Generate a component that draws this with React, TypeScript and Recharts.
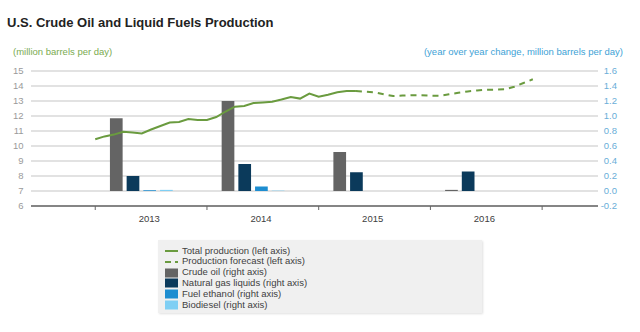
import React from "react";
import { ComposedChart, Bar, Line, XAxis, YAxis, CartesianGrid } from "recharts";

const FONT = "'Liberation Sans', Arial, sans-serif";

const years = ["2013", "2014", "2015", "2016"];

// monthly total production, Jan 2013 - May 2015 (million barrels per day)
const totalProduction = [
  10.45, 10.64, 10.76, 10.95, 10.9, 10.84, 11.1, 11.33, 11.56, 11.6, 11.8, 11.73,
  11.73, 11.93, 12.3, 12.62, 12.67, 12.86, 12.9, 12.95, 13.1, 13.27, 13.16, 13.5,
  13.28, 13.42, 13.58, 13.66, 13.67,
];
// forecast, May 2015 - Dec 2016
const productionForecast = [
  13.67, 13.62, 13.58, 13.45, 13.33, 13.36, 13.38, 13.38, 13.36, 13.35, 13.45,
  13.55, 13.64, 13.7, 13.75, 13.76, 13.78, 13.95, 14.2, 14.45,
];

// year over year change (million barrels per day)
const crudeOil = [0.97, 1.2, 0.52, 0.015];
const naturalGasLiquids = [0.2, 0.36, 0.25, 0.26];
const fuelEthanol = [0.01, 0.06, 0, 0];
const biodiesel = [0.015, 0.005, 0, 0];

const leftTicks = [6, 7, 8, 9, 10, 11, 12, 13, 14, 15];
const rightTicks = [-0.2, 0, 0.2, 0.4, 0.6, 0.8, 1.0, 1.2, 1.4, 1.6];
const yearTicks = [0, 12, 24, 36, 48];

const X_DOMAIN: [number, number] = [-6.9, 54];
const FORECAST_START = totalProduction.length - 1;
const BAR_MONTH = 5;

const C = {
  green: "#6a9b3f",
  crude: "#646464",
  ngl: "#0b3a5b",
  ethanol: "#1d8dd0",
  biodiesel: "#7fcff4",
};

const monthRows = Array.from(
  { length: FORECAST_START + productionForecast.length },
  (_, m) => ({
    m,
    actual: m < totalProduction.length ? totalProduction[m] : null,
    forecast: m >= FORECAST_START ? productionForecast[m - FORECAST_START] : null,
  })
);

const barRows = years.map((year, i) => ({
  m: i * 12 + BAR_MONTH,
  year,
  crude: crudeOil[i],
  ngl: naturalGasLiquids[i],
  ethanol: fuelEthanol[i],
  biodiesel: biodiesel[i],
}));

const YearTick = (props: any) => {
  const { x, y, payload } = props;
  const label = years[Math.round(payload.value / 12)];
  if (!label) return <g />;
  return (
    <text x={x + 54} y={y + 9.5} textAnchor="middle" fontSize={9.5} fill="#404040" fontFamily={FONT}>
      {label}
    </text>
  );
};

const legendItems = [
  { label: "Total production (left axis)", kind: "line" },
  { label: "Production forecast (left axis)", kind: "dash" },
  { label: "Crude oil (right axis)", kind: "box", color: C.crude },
  { label: "Natural gas liquids (right axis)", kind: "box", color: C.ngl },
  { label: "Fuel ethanol (right axis)", kind: "box", color: C.ethanol },
  { label: "Biodiesel (right axis)", kind: "box", color: C.biodiesel },
];

const LegendBox = () => (
  <div
    style={{
      position: "absolute",
      left: 158,
      top: 240,
      width: 324,
      height: 73,
      background: "#f0f0f0",
      boxShadow: "1px 1px 2px rgba(0,0,0,0.12)",
      paddingTop: 5.6,
      boxSizing: "border-box",
    }}
  >
    {legendItems.map((it) => (
      <div key={it.label} style={{ display: "flex", alignItems: "center", height: 10.8, paddingLeft: 7 }}>
        <svg width={13} height={10} style={{ marginRight: 4, flex: "none" }}>
          {it.kind === "line" && <line x1={0} x2={13} y1={5} y2={5} stroke={C.green} strokeWidth={2} />}
          {it.kind === "dash" && (
            <line x1={0} x2={13} y1={5} y2={5} stroke={C.green} strokeWidth={2} strokeDasharray="6 4" />
          )}
          {it.kind === "box" && <rect x={0} y={0.5} width={13} height={9} fill={it.color} />}
        </svg>
        <span style={{ fontSize: 9.5, color: "#404040", lineHeight: "10.8px", whiteSpace: "nowrap" }}>{it.label}</span>
      </div>
    ))}
  </div>
);

export default function App() {
  return (
    <div
      style={{
        position: "absolute",
        left: 0,
        top: 0,
        width: 640,
        height: 332,
        background: "#fff",
        overflow: "hidden",
        fontFamily: FONT,
      }}
    >
      <div style={{ position: "absolute", left: 7, top: 15, fontSize: 13, lineHeight: "15px", fontWeight: 700, color: "#222", whiteSpace: "nowrap" }}>
        U.S. Crude Oil and Liquid Fuels Production
      </div>
      <div style={{ position: "absolute", left: 13, top: 46, fontSize: 9.5, lineHeight: "11px", color: "#7aab50", whiteSpace: "nowrap" }}>
        (million barrels per day)
      </div>
      <div style={{ position: "absolute", right: 17, top: 46, fontSize: 9.5, lineHeight: "11px", color: "#3ea2d6", whiteSpace: "nowrap" }}>
        (year over year change, million barrels per day)
      </div>

      <div style={{ position: "absolute", left: 0, top: 0 }}>
        <ComposedChart width={640} height={332} data={barRows} barGap={4} margin={{ top: 71, right: 0, bottom: 106, left: 0 }}>
          <CartesianGrid yAxisId="left" vertical={false} stroke="#d9d9d9" strokeWidth={1.3} />
          <XAxis
            dataKey="m"
            type="number"
            domain={X_DOMAIN}
            allowDataOverflow
            ticks={yearTicks}
            interval={0}
            height={20}
            tickSize={4}
            axisLine={{ stroke: "#666", strokeWidth: 1.5 }}
            tickLine={{ stroke: "#666" }}
            tick={YearTick}
          />
          <YAxis
            yAxisId="left"
            orientation="left"
            width={31}
            domain={[6, 15]}
            ticks={leftTicks}
            interval={0}
            allowDataOverflow
            axisLine={false}
            tickLine={false}
            tickMargin={1.5}
            tick={{ fill: "#9a9a9a", fontSize: 9.5, fontFamily: FONT }}
          />
          <YAxis
            yAxisId="right"
            orientation="right"
            width={42}
            domain={[-0.2, 1.6]}
            ticks={rightTicks}
            interval={0}
            allowDataOverflow
            axisLine={false}
            tickLine={false}
            tickMargin={13}
            tickFormatter={(v: number) => v.toFixed(1)}
            tick={{ fill: "#6aaed8", fontSize: 9.5, fontFamily: FONT, textAnchor: "end" }}
          />
          <Bar yAxisId="right" dataKey="crude" fill={C.crude} barSize={12.7} isAnimationActive={false} />
          <Bar yAxisId="right" dataKey="ngl" fill={C.ngl} barSize={12.7} isAnimationActive={false} />
          <Bar yAxisId="right" dataKey="ethanol" fill={C.ethanol} barSize={12.7} isAnimationActive={false} />
          <Bar yAxisId="right" dataKey="biodiesel" fill={C.biodiesel} barSize={12.7} isAnimationActive={false} />
        </ComposedChart>
      </div>

      <div style={{ position: "absolute", left: 0, top: 0 }}>
        <ComposedChart width={640} height={332} data={monthRows} margin={{ top: 71, right: 42, bottom: 126, left: 31 }}>
          <XAxis hide dataKey="m" type="number" domain={X_DOMAIN} allowDataOverflow />
          <YAxis hide yAxisId="left" domain={[6, 15]} allowDataOverflow />
          <Line yAxisId="left" dataKey="actual" stroke={C.green} strokeWidth={2} dot={false} isAnimationActive={false} />
          <Line
            yAxisId="left"
            dataKey="forecast"
            stroke={C.green}
            strokeWidth={2}
            strokeDasharray="6 5"
            dot={false}
            isAnimationActive={false}
          />
        </ComposedChart>
      </div>

      <LegendBox />
    </div>
  );
}
